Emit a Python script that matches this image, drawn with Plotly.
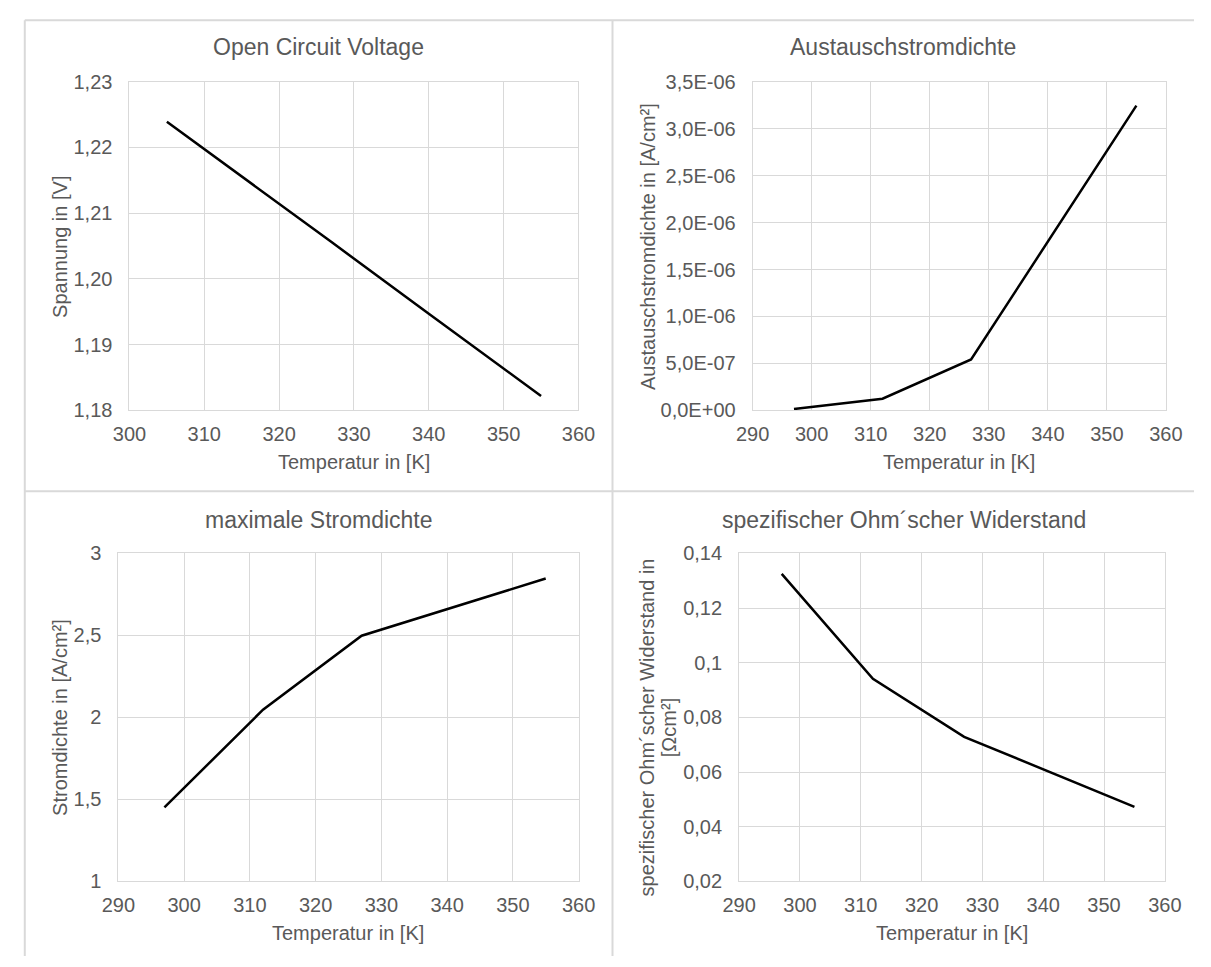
import plotly.graph_objects as go

# ---- data ----
temp_ocv = [305, 312, 327, 340, 355]
ocv = [1.2239, 1.2181, 1.2056, 1.1947, 1.1822]

temp = [297, 312, 327, 355]
exchange_current = [1.5e-8, 1.25e-7, 5.42e-7, 3.245e-6]
max_current = [1.451, 2.047, 2.498, 2.847]
ohmic_resistance = [0.1325, 0.0941, 0.0729, 0.0473]

x_ticks_ocv = [300, 310, 320, 330, 340, 350, 360]
x_ticks = [290, 300, 310, 320, 330, 340, 350, 360]

y1_ticks = [1.18, 1.19, 1.20, 1.21, 1.22, 1.23]
y1_labels = ["1,18", "1,19", "1,20", "1,21", "1,22", "1,23"]
y2_ticks = [0, 5e-7, 1e-6, 1.5e-6, 2e-6, 2.5e-6, 3e-6, 3.5e-6]
y2_labels = ["0,0E+00", "5,0E-07", "1,0E-06", "1,5E-06", "2,0E-06",
             "2,5E-06", "3,0E-06", "3,5E-06"]
y3_ticks = [1, 1.5, 2, 2.5, 3]
y3_labels = ["1", "1,5", "2", "2,5", "3"]
y4_ticks = [0.02, 0.04, 0.06, 0.08, 0.10, 0.12, 0.14]
y4_labels = ["0,02", "0,04", "0,06", "0,08", "0,1", "0,12", "0,14"]

titles = ["Open Circuit Voltage", "Austauschstromdichte",
          "maximale Stromdichte", "spezifischer Ohm´scher Widerstand"]
x_title = "Temperatur in [K]"

# ---- layout helpers (pixel -> paper) ----
W, H = 1211, 967
FONT = "Liberation Sans, Arial, sans-serif"
TEXT = "#595959"
GRID = "#d9d9d9"


def px(x):
    return x / W


def py(y):
    return 1 - y / H


fig = go.Figure()

series = [
    (temp_ocv, ocv, "x", "y"),
    (temp, exchange_current, "x2", "y2"),
    (temp, max_current, "x3", "y3"),
    (temp, ohmic_resistance, "x4", "y4"),
]
for xs, ys, xa, ya in series:
    fig.add_trace(go.Scatter(x=xs, y=ys, xaxis=xa, yaxis=ya, mode="lines",
                             line=dict(color="#000000", width=2.5),
                             showlegend=False, hoverinfo="skip"))

# plot areas in pixels: (left, right, top, bottom)
areas = [
    (115.7, 577.7, 72.3, 408.7),
    (756.9, 1182.1, 72.3, 408.7),
    (104.3, 577.8, 555.0, 890.7),
    (743.0, 1181.0, 555.0, 890.7),
]
x_ranges = [[300, 360], [290, 360], [290, 360], [290, 360]]
x_tickvals = [x_ticks_ocv, x_ticks, x_ticks, x_ticks]
y_ranges = [[1.18, 1.23], [0, 3.5e-6], [1, 3], [0.02, 0.14]]
y_tickvals = [y1_ticks, y2_ticks, y3_ticks, y4_ticks]
y_ticktext = [y1_labels, y2_labels, y3_labels, y4_labels]

axis_common = dict(showgrid=True, gridcolor=GRID, gridwidth=1,
                   showline=True, linecolor=GRID, linewidth=1, mirror=True,
                   zeroline=False, ticks="",
                   tickfont=dict(family=FONT, size=20, color=TEXT))

for i, (l, r, t, b) in enumerate(areas):
    sfx = "" if i == 0 else str(i + 1)
    fig.update_layout(**{
        "xaxis" + sfx: dict(domain=[px(l), px(r)], range=x_ranges[i],
                            tickmode="array", tickvals=x_tickvals[i],
                            ticktext=[str(v) for v in x_tickvals[i]],
                            anchor="y" + sfx, ticklabelstandoff=6,
                            **axis_common),
        "yaxis" + sfx: dict(domain=[py(b), py(t)], range=y_ranges[i],
                            tickmode="array", tickvals=y_tickvals[i],
                            ticktext=y_ticktext[i],
                            anchor="x" + sfx, ticklabelstandoff=12,
                            **axis_common),
    })

annotations = []


def label(text, x, y, size, angle=0):
    annotations.append(dict(text=text, x=px(x), y=py(y), xref="paper",
                            yref="paper", showarrow=False, textangle=angle,
                            xanchor="center", yanchor="middle",
                            font=dict(family=FONT, size=size, color=TEXT)))


# chart titles
label(titles[0], 310.5, 37, 23)
label(titles[1], 912, 37, 23)
label(titles[2], 310.5, 521, 23)
label(titles[3], 913, 521, 23)

# x-axis titles
label(x_title, 346.7, 462, 20)
label(x_title, 969.5, 462, 20)
label(x_title, 341.0, 943, 20)
label(x_title, 962.0, 943, 20)

# y-axis titles
label("Spannung in [V]", 43.6, 241, 20, -90)
label("Austauschstromdichte in [A/cm²]", 648.7, 241, 20, -90)
label("Stromdichte in [A/cm²]", 43.6, 723, 20, -90)
label("spezifischer Ohm´scher Widerstand in", 648.3, 733, 20, -90)
label("[Ωcm²]", 670.7, 733, 20, -90)

# panel frame lines
frame = [
    (8, 9.5, W, 9.5),
    (8, 9.5, 8, H),
    (612.7, 9.5, 612.7, H),
    (8, 491.5, W, 491.5),
]
shapes = [dict(type="line", xref="paper", yref="paper",
               x0=px(a), y0=py(b), x1=px(c), y1=py(d),
               line=dict(color=GRID, width=2)) for a, b, c, d in frame]

fig.update_layout(width=W, height=H, margin=dict(l=0, r=0, t=0, b=0),
                  paper_bgcolor="white", plot_bgcolor="white",
                  annotations=annotations, shapes=shapes,
                  font=dict(family=FONT, color=TEXT))

fig.write_html("out.html")
